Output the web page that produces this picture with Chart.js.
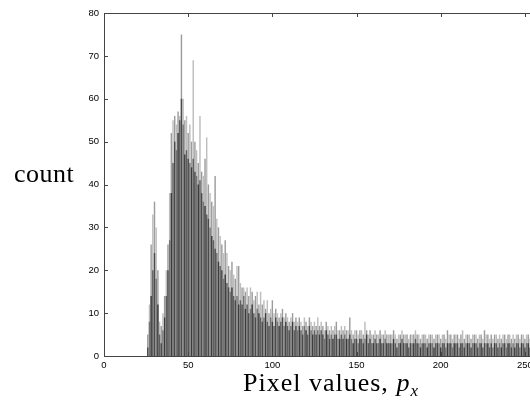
<!DOCTYPE html>
<html>
<head>
<meta charset="utf-8">
<script src="https://cdn.jsdelivr.net/npm/chart.js@4/dist/chart.umd.min.js"></script>
<style>
  html, body { margin: 0; padding: 0; background: #fff; overflow: hidden; }
  #wrap { position: relative; width: 545px; height: 417px; }
  .lbl { position: absolute; font-family: "Liberation Serif", serif; font-size: 26px; line-height: 26px; color: #000; white-space: nowrap; }
  .lbl sub { font-size: 17px; vertical-align: -5px; line-height: 0; }
</style>
</head>
<body>
<div id="wrap">
  <canvas id="histChart" width="545" height="417"></canvas>
  <div class="lbl" style="left:14px; top:161px; letter-spacing:0.5px;">count</div>
  <div class="lbl" style="left:243px; top:370px; letter-spacing:1px;">Pixel values, <i>p</i><sub><i>x</i></sub></div>
</div>
<script>
// pixel value bins 0..255
const bins = Array.from({ length: 256 }, (_, i) => i);

// taller, lighter bars (drawn behind)
const countsLight = [
  0,0,0,0,0,0,0,0,0,0,
  0,0,0,0,0,0,0,0,0,0,
  0,0,0,0,0,0,5,12,26,33,
  36,30,20,8,7,10,14,20,26,38,
  52,55,56,54,57,56,75,60,55,56,
  52,54,50,69,50,48,45,56,43,42,
  46,51,40,38,36,35,42,32,30,28,
  26,24,27,24,21,20,22,19,18,21,
  21,17,16,16,15,16,14,16,15,13,
  14,15,12,15,12,13,11,13,10,11,
  13,10,11,10,9,10,11,9,10,9,
  8,9,10,8,9,8,9,8,7,9,
  8,7,9,8,7,8,7,9,7,8,
  7,6,8,7,6,7,6,7,8,6,
  6,7,6,7,6,6,9,6,5,6,
  6,5,6,6,5,8,6,5,6,5,
  5,6,5,5,6,5,5,6,5,5,
  5,5,6,5,4,5,5,6,5,5,
  5,4,5,5,5,6,5,5,4,5,
  5,5,4,5,5,5,4,5,5,5,
  4,5,5,4,6,5,5,4,5,5,
  5,4,5,6,4,5,5,5,4,5,
  5,5,4,5,5,4,6,5,5,4,
  5,4,5,5,4,5,4,5,5,4,
  5,5,4,5,4,5,5,4,5,5,
  4,5,5,4,5,5
];

// main darker bars (drawn in front)
const countsDark = [
  0,0,0,0,0,0,0,0,0,0,
  0,0,0,0,0,0,0,0,0,0,
  0,0,0,0,0,0,2,8,14,20,
  24,18,12,5,3,6,9,14,20,27,
  38,45,50,48,52,55,60,54,47,48,
  46,45,44,46,43,42,40,41,38,36,
  35,33,32,30,28,27,25,24,22,21,
  20,18,19,17,16,15,16,14,13,14,
  12,13,12,14,11,12,10,11,12,10,
  9,11,10,9,8,9,10,8,7,9,
  8,7,9,8,7,8,9,7,8,7,
  6,7,8,6,7,6,7,6,5,7,
  6,5,7,6,5,6,5,6,5,6,
  5,4,6,5,4,5,4,5,5,4,
  4,5,4,5,4,4,5,4,3,4,
  4,3,4,4,3,4,5,3,4,3,
  3,4,3,3,4,3,3,4,3,3,
  3,3,4,3,2,3,3,4,3,3,
  3,2,3,3,3,4,3,3,2,3,
  3,3,2,3,3,3,2,3,3,3,
  2,3,3,2,3,3,3,2,3,3,
  3,2,3,3,2,3,3,3,2,3,
  3,3,2,3,3,2,3,3,3,2,
  3,2,3,3,2,3,2,3,3,2,
  3,3,2,3,2,3,3,2,3,3,
  2,3,3,2,3,3
];

const xTicks = [0, 50, 100, 150, 200, 250];
const yTicks = [0, 10, 20, 30, 40, 50, 60, 70, 80];

const darkShades = ['#3c3c3c', '#5e5e5e', '#4a4a4a', '#747474'];
const lightShades = ['#9c9c9c', '#bdbdbd'];

// box around the plot with inward ticks, matlab style
const boxPlugin = {
    id: 'boxPlugin',
    afterDraw(chart) {
        const { ctx, chartArea: a, scales } = chart;
        ctx.save();
        ctx.strokeStyle = '#444';
        ctx.lineWidth = 1;
        ctx.strokeRect(a.left + 0.5, a.top + 0.5, a.right - a.left, a.bottom - a.top);
        ctx.beginPath();
        yTicks.forEach(v => {
            const y = Math.round(scales.y.getPixelForValue(v)) + 0.5;
            ctx.moveTo(a.left, y); ctx.lineTo(a.left + 4, y);
            ctx.moveTo(a.right, y); ctx.lineTo(a.right - 4, y);
        });
        xTicks.forEach(v => {
            const x = Math.round(scales.x.getPixelForValue(v)) + 0.5;
            ctx.moveTo(x, a.bottom); ctx.lineTo(x, a.bottom - 4);
            ctx.moveTo(x, a.top); ctx.lineTo(x, a.top + 4);
        });
        ctx.stroke();
        ctx.restore();
    }
};

const ctx = document.getElementById('histChart').getContext('2d');
const histChart = new Chart(ctx, {
    type: 'bar',
    data: {
        labels: bins,
        datasets: [
            {
                label: 'dark',
                data: countsDark,
                backgroundColor: c => darkShades[c.dataIndex % darkShades.length],
                barPercentage: 0.85,
                categoryPercentage: 1,
                order: 1,
            },
            {
                label: 'light',
                data: countsLight,
                backgroundColor: c => lightShades[c.dataIndex % lightShades.length],
                barPercentage: 0.85,
                categoryPercentage: 1,
                order: 2,
            },
        ]
    },
    options: {
        responsive: false,
        animation: false,
        devicePixelRatio: 1,
        grouped: false,
        layout: { padding: { left: 0, top: 13, right: 10, bottom: 0 } },
        plugins: {
            legend: { display: false },
            tooltip: { enabled: false },
        },
        scales: {
            x: {
                type: 'linear',
                min: 0,
                max: 256,
                offset: false,
                grid: { display: false, drawTicks: false },
                border: { display: false },
                afterFit: s => { s.height = 61; },
                afterBuildTicks: s => { s.ticks = xTicks.map(v => ({ value: v })); },
                ticks: {
                    padding: 4,
                    maxRotation: 0,
                    color: '#000',
                    font: { family: 'Liberation Sans', size: 9.5 },
                },
            },
            y: {
                min: 0,
                max: 80,
                grid: { display: false, drawTicks: false },
                border: { display: false },
                afterFit: s => { s.width = 104; },
                afterBuildTicks: s => { s.ticks = yTicks.map(v => ({ value: v })); },
                ticks: {
                    padding: 5,
                    color: '#000',
                    font: { family: 'Liberation Sans', size: 9.5 },
                },
            },
        },
    },
    plugins: [boxPlugin],
});
</script>
</body>
</html>
